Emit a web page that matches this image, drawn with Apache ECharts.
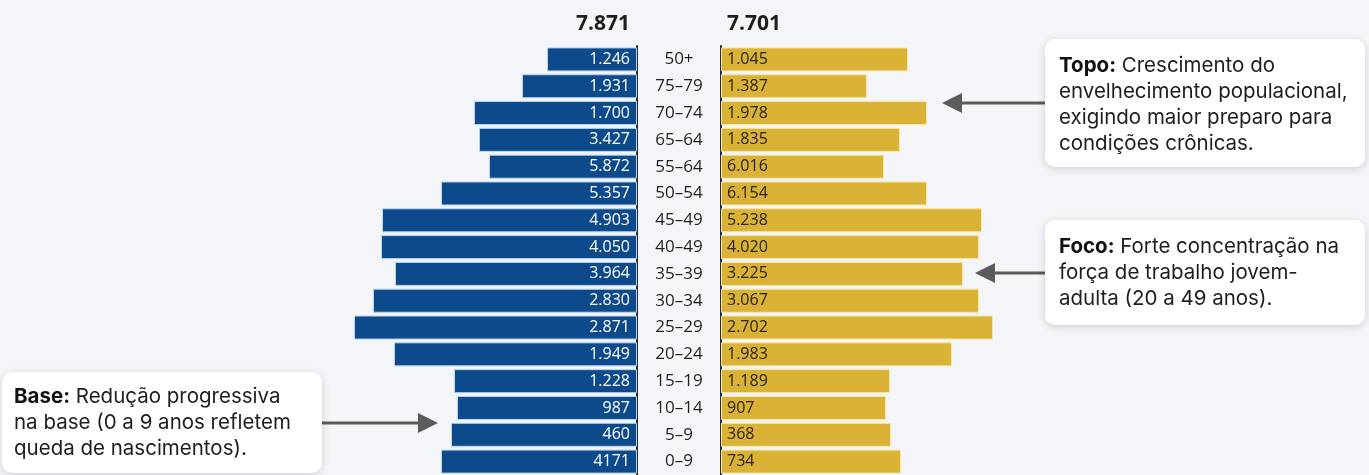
<!DOCTYPE html>
<html>
<head>
<meta charset="utf-8">
<script src="https://cdn.jsdelivr.net/npm/echarts@6/dist/echarts.min.js"></script>
<style>
html,body{margin:0;padding:0;background:#f3f5f9;}
#chart{width:1369px;height:475px;}
</style>
</head>
<body>
<div id="chart"></div>
<script>
// Age groups, top to bottom as shown
const categories = ['50+','75–79','70–74','65–64','55–64','50–54','45–49','40–49','35–39','30–34','25–29','20–24','15–19','10–14','5–9','0–9'];
// Bar lengths (relative units, same scale both sides)
const leftValues  = [90,115,163,158,148,196,255,256,242,264,283,243,183,180,186,196];
const rightValues = [187,146,206,179,163,206,261,258,242,258,272,231,169,165,170,180];
// Printed labels on the bars
const leftLabels  = ['1.246','1.931','1.700','3.427','5.872','5.357','4.903','4.050','3.964','2.830','2.871','1.949','1.228','987','460','4171'];
const rightLabels = ['1.045','1.387','1.978','1.835','6.016','6.154','5.238','4.020','3.225','3.067','2.702','1.983','1.189','907','368','734'];
const totals = ['7.871','7.701'];

const notes = [
  {bold:'Topo:', lines:[' Crescimento do','envelhecimento populacional,','exigindo maior preparo para','condições crônicas.']},
  {bold:'Foco:', lines:[' Forte concentração na','força de trabalho jovem-','adulta (20 a 49 anos).']},
  {bold:'Base:', lines:[' Redução progressiva','na base (0 a 9 anos refletem','queda de nascimentos).']}
];

const chart = echarts.init(document.getElementById('chart'));
const BLUE = '#0d4a8c', GOLD = '#dab236';
const numFont = '"Open Sans", sans-serif';
const noteFont = 'Inter, "Noto Sans", sans-serif';

function noteText(n){
  return '{b|' + n.bold + '}' + n.lines[0] + '\n' + n.lines.slice(1).join('\n');
}
function box(x,y,w,h){
  return {type:'rect', shape:{x:x,y:y,width:w,height:h,r:10}, style:{fill:'#ffffff', shadowBlur:8, shadowColor:'rgba(0,0,0,0.15)', shadowOffsetY:2}, z:10};
}
function note(x,y,n){
  return {type:'text', x:x, y:y, z:11, style:{text:noteText(n), font:'20.5px ' + noteFont, fill:'#1e1e1e', lineHeight:26, verticalAlign:'middle',
    rich:{b:{fontWeight:'bold', fontSize:20.5, fontFamily:noteFont, fill:'#111', lineHeight:26}}}};
}
function arrow(x1,x2,y,dir){
  // dir: -1 points left (tip at x2), +1 points right
  const head = 20, hw = 10;
  const base = x2 - dir*head;
  return [
    {type:'line', shape:{x1:x1,y1:y,x2:base,y2:y}, style:{stroke:'#5b5b5b', lineWidth:3}, z:9},
    {type:'polygon', shape:{points:[[x2,y],[base,y-hw],[base,y+hw]]}, style:{fill:'#5b5b5b'}, z:9}
  ];
}

const option = {
  backgroundColor:'#f3f5f9',
  animation:false,
  grid:[
    {left:337, width:300, top:46, height:432},
    {left:721, width:300, top:46, height:432}
  ],
  xAxis:[
    {gridIndex:0, type:'value', min:0, max:300, inverse:true, show:false},
    {gridIndex:1, type:'value', min:0, max:300, show:false}
  ],
  yAxis:[
    {gridIndex:0, type:'category', data:categories, inverse:true, position:'right',
      axisLine:{show:true, lineStyle:{color:'#2b2b2b', width:2}}, axisTick:{show:false},
      axisLabel:{align:'center', margin:42, color:'#1f1f1f', fontSize:17, fontFamily:numFont}},
    {gridIndex:1, type:'category', data:categories, inverse:true, position:'left',
      axisLine:{show:true, lineStyle:{color:'#2b2b2b', width:2}}, axisTick:{show:false},
      axisLabel:{show:false}}
  ],
  series:[
    {type:'bar', xAxisIndex:0, yAxisIndex:0, data:leftValues, barWidth:24,
      itemStyle:{color:BLUE, borderColor:'#b9d3ee', borderWidth:1},
      label:{show:true, position:'insideRight', distance:7, color:'#ffffff', fontSize:16, fontFamily:numFont,
        formatter:p=>leftLabels[p.dataIndex]}},
    {type:'bar', xAxisIndex:1, yAxisIndex:1, data:rightValues, barWidth:24,
      itemStyle:{color:GOLD, borderColor:'#f6e7a6', borderWidth:1},
      label:{show:true, position:'insideLeft', distance:6, color:'#2a2418', fontSize:16, fontFamily:numFont,
        formatter:p=>rightLabels[p.dataIndex]}}
  ],
  graphic:[
    {type:'text', x:630, y:24, style:{text:totals[0], font:'bold 21px ' + numFont, fill:'#1e1e1e', align:'right', verticalAlign:'middle'}},
    {type:'text', x:727, y:24, style:{text:totals[1], font:'bold 21px ' + numFont, fill:'#1e1e1e', align:'left', verticalAlign:'middle'}},
    box(1045,39,320,128),
    note(1059,105,notes[0]),
    box(1045,220,320,105),
    note(1059,273,notes[1]),
    box(2,372,320,101),
    note(14,423,notes[2]),
    ...arrow(1045,942,103,-1),
    ...arrow(1045,975,273,-1),
    ...arrow(322,438,423,1)
  ]
};
chart.setOption(option);
</script>
</body>
</html>
